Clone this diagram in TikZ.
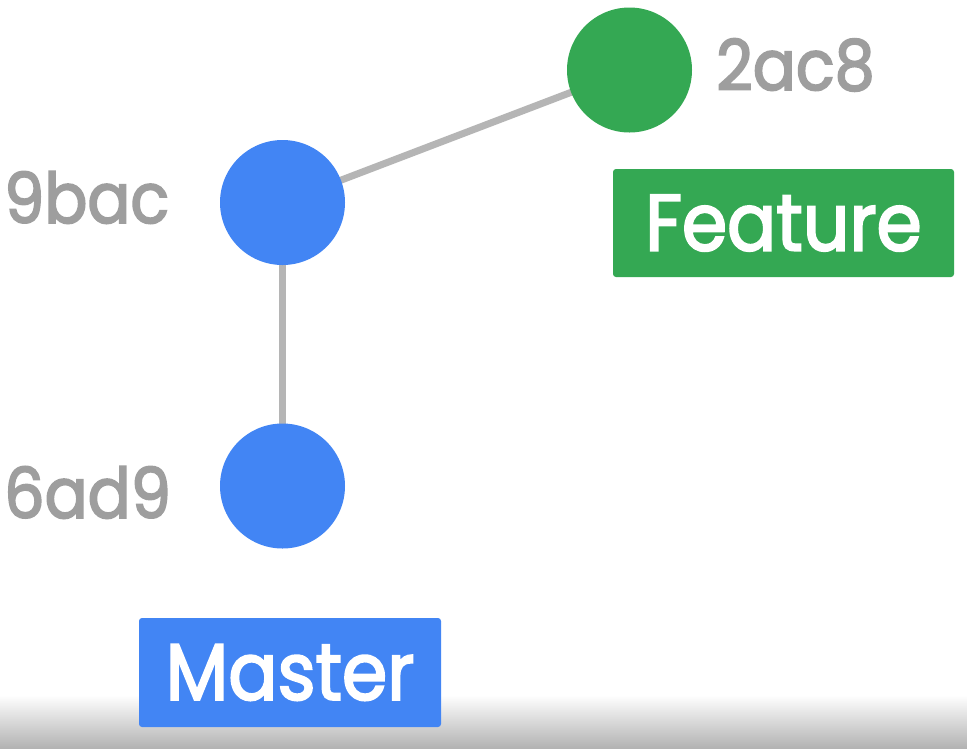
\documentclass[tikz,border=0pt]{standalone}
\usepackage{fontspec}
\setmainfont{Poppins}[FakeStretch=0.91,FakeBold=2.5]
\definecolor{gblue}{HTML}{4285F4}
\definecolor{ggreen}{HTML}{34A853}
\definecolor{hashgray}{HTML}{9E9E9E}
\definecolor{edgegray}{HTML}{B5B5B5}
\begin{document}
\begin{tikzpicture}[x=1pt,y=-1pt,
  commit/.style={circle,minimum size=125pt,inner sep=0pt},
  hashlabel/.style={text=hashgray,inner sep=0pt,font=\fontsize{70}{70}\selectfont},
  branch/.style={rounded corners=3pt,text=white,inner sep=0pt,font=\fontsize{80}{80}\selectfont},
  link/.style={draw=edgegray,line width=7pt}]
  % canvas with the soft shadow along the lower edge
  \fill[white] (0,0) rectangle (967,748);
  \shade[top color=white,bottom color=black!30] (0,695) rectangle (967,748);
  \useasboundingbox (0,0) rectangle (967,748);
  % commits
  \node[commit] (c9bac) at (282.5,202.5) {};
  \node[commit] (c6ad9) at (282.5,486) {};
  \node[commit] (c2ac8) at (629.5,70) {};
  % history links, drawn first so the commits sit on top
  \path[link] (c9bac.center) -- (c2ac8.center);
  \path[link] (c9bac.center) -- (c6ad9.center);
  \fill[gblue]  (c9bac) circle (62.5);
  \fill[gblue]  (c6ad9) circle (62.5);
  \fill[ggreen] (c2ac8) circle (62.5);
  % hashes
  \node[hashlabel,anchor=base west] (h2ac8) at (716,90) {2ac8};
  \node[hashlabel,anchor=base west] (h9bac) at (4,223) {9bac};
  \node[hashlabel,anchor=base west] (h6ad9) at (4,518) {6ad9};
  % branch pointers
  \node[branch,fill=ggreen,minimum width=341pt,minimum height=108pt] (feature) at (783.5,223) {Feature};
  \node[branch,fill=gblue,minimum width=302pt,minimum height=109pt] (master) at (290,672.5) {Master};
\end{tikzpicture}
\end{document}
